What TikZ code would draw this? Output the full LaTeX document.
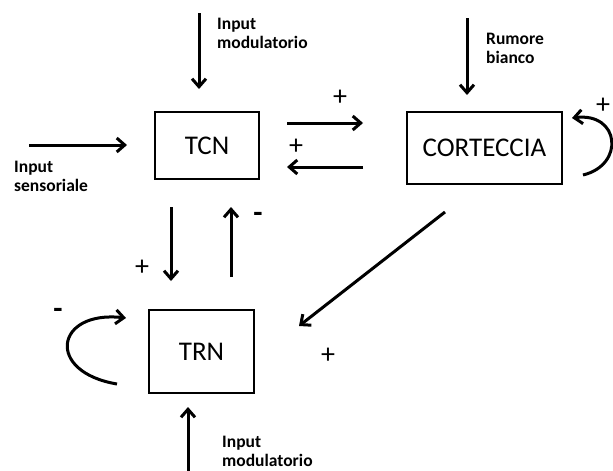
\documentclass[tikz,border=0pt]{standalone}
\usepackage{fontspec}
\setmainfont{Carlito}
\usetikzlibrary{arrows.meta}
\begin{document}
\begin{tikzpicture}[x=1pt,y=-1pt,
  box/.style={draw,line width=1.8pt,inner sep=0pt,font=\fontsize{27}{30}\selectfont},
  arr/.style={line width=3pt,-{Straight Barb[length=8pt,width=14pt,line width=3pt]}},
  lbl/.style={font=\bfseries\fontsize{17.5}{21}\selectfont,align=left,anchor=north west,inner sep=0pt},
  sgn/.style={font=\fontsize{28}{30}\selectfont,inner sep=0pt}]
\useasboundingbox (0,0) rectangle (613,471);
% boxes
\node[box,minimum width=104pt,minimum height=67pt] (tcn) at (207,145.5) {TCN};
\node[box,minimum width=155pt,minimum height=72pt] (cort) at (484.5,148) {CORTECCIA};
\node[box,minimum width=105pt,minimum height=83pt] (trn) at (201.5,351.5) {TRN};
% endpoints
\coordinate (imtA) at (199,13);   \coordinate (imtB) at (199,89);
\coordinate (isA) at (29,145);    \coordinate (isB) at (127,145);
\coordinate (tcA) at (287,123);   \coordinate (tcB) at (363,123);
\coordinate (ctA) at (363,167);   \coordinate (ctB) at (287,167);
\coordinate (rbA) at (467,18);    \coordinate (rbB) at (467,95);
\coordinate (ttA) at (171,207);   \coordinate (ttB) at (171,281);
\coordinate (rtA) at (231,277);   \coordinate (rtB) at (231,207);
\coordinate (crA) at (445,212);   \coordinate (crB) at (299,326);
\coordinate (imbA) at (188,471);  \coordinate (imbB) at (188,407);
\coordinate (clA) at (583,175);   \coordinate (clB) at (572,118);
\coordinate (tlA) at (117,384);   \coordinate (tlB) at (126,318);
% arrows
\draw[arr] (imtA) -- (imtB);
\draw[arr] (isA) -- (isB);
\draw[arr] (tcA) -- (tcB);
\draw[arr] (ctA) -- (ctB);
\draw[arr] (rbA) -- (rbB);
\draw[arr] (ttA) -- (ttB);
\draw[arr] (rtA) -- (rtB);
\draw[arr] (crA) -- (crB);
\draw[arr] (imbA) -- (imbB);
\draw[arr] (clA) .. controls (625,165) and (620,112) .. (clB);
\draw[arr] (tlA) .. controls (45,372) and (55,310) .. (tlB);
% labels
\node[lbl] (l1) at (217,18) {Input\\[-2pt]modulatorio};
\node[lbl] (l2) at (14,161) {Input\\[-2pt]sensoriale};
\node[lbl] (l3) at (486,33) {Rumore\\[-2pt]bianco};
\node[lbl] (l4) at (222,436) {Input\\[-2pt]modulatorio};
% signs
\node[sgn] (s1) at (340,98) {+};
\node[sgn] (s2) at (296,147) {+};
\node[sgn] (s3) at (603,106) {+};
\node[sgn] (s4) at (142,268) {+};
\node[sgn,font=\bfseries\fontsize{30}{30}\selectfont] (s5) at (258,217) {-};
\node[sgn] (s6) at (328,356) {+};
\node[sgn,font=\bfseries\fontsize{30}{30}\selectfont] (s7) at (58,313) {-};
\end{tikzpicture}
\end{document}
